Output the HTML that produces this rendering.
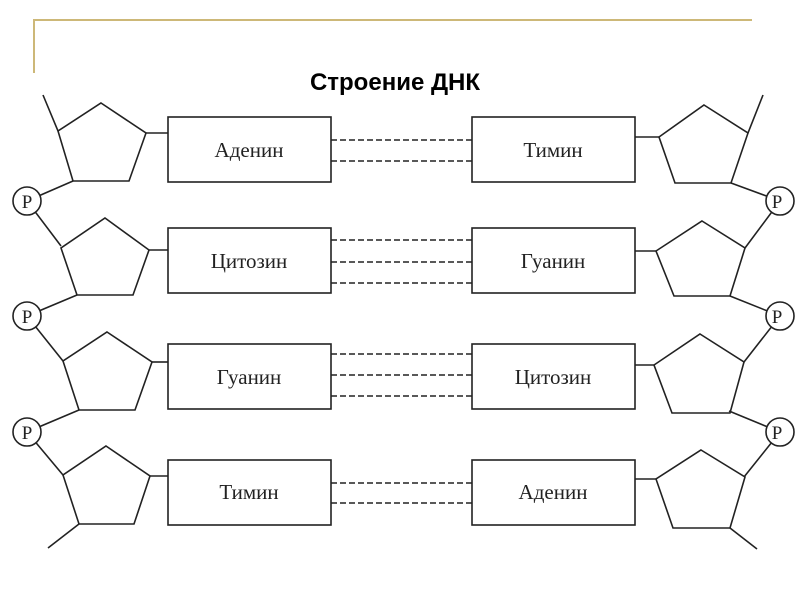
<!DOCTYPE html>
<html><head><meta charset="utf-8"><style>
html,body{margin:0;padding:0;background:#fff;width:800px;height:600px;overflow:hidden}
svg{display:block}
</style></head><body>
<svg width="800" height="600" viewBox="0 0 800 600" xmlns="http://www.w3.org/2000/svg">
<line x1="33" y1="20" x2="752" y2="20" stroke="#cdb878" stroke-width="2"/>
<line x1="34" y1="20" x2="34" y2="73" stroke="#cdb878" stroke-width="2"/>
<text x="395" y="90" text-anchor="middle" font-family="Liberation Sans, sans-serif" font-weight="bold" font-size="24" fill="#000">Строение ДНК</text>
<g stroke="#222" stroke-width="1.6" fill="none">
<polyline points="43,95 58,131"/>
<polyline points="73,181 27,201 61,246"/>
<polyline points="77,295 27,316 63,361"/>
<polyline points="79,410 27,432 63,475"/>
<polyline points="79,524 48,548"/>
<polyline points="763,95 748,133"/>
<polyline points="731,183 780,201 745,248"/>
<polyline points="730,296 780,316 744,362"/>
<polyline points="729,411 780,432 744,477"/>
<polyline points="730,528 757,549"/>
<polygon points="101,103 146,133 129,181 73,181 58,131"/>
<polygon points="105,218 149,250 133,295 77,295 61,248"/>
<polygon points="107,332 152,362 135,410 79,410 63,361"/>
<polygon points="106,446 150,476 134,524 79,524 63,475"/>
<polygon points="704,105 748,133 731,183 675,183 659,137"/>
<polygon points="702,221 745,248 730,296 674,296 656,251"/>
<polygon points="700,334 744,362 730,413 672,413 654,365"/>
<polygon points="701,450 745,477 730,528 673,528 656,479"/>
<line x1="146" y1="133" x2="168" y2="133"/>
<line x1="149" y1="250" x2="168" y2="250"/>
<line x1="152" y1="362" x2="168" y2="362"/>
<line x1="150" y1="476" x2="168" y2="476"/>
<line x1="635" y1="137" x2="659" y2="137"/>
<line x1="635" y1="251" x2="656" y2="251"/>
<line x1="635" y1="365" x2="654" y2="365"/>
<line x1="635" y1="479" x2="656" y2="479"/>
</g>
<g stroke="#222" stroke-width="1.6" fill="#fff">
<circle cx="27" cy="201" r="14"/>
<circle cx="27" cy="316" r="14"/>
<circle cx="27" cy="432" r="14"/>
<circle cx="780" cy="201" r="14"/>
<circle cx="780" cy="316" r="14"/>
<circle cx="780" cy="432" r="14"/>
<rect x="168" y="117" width="163" height="65"/>
<rect x="168" y="228" width="163" height="65"/>
<rect x="168" y="344" width="163" height="65"/>
<rect x="168" y="460" width="163" height="65"/>
<rect x="472" y="117" width="163" height="65"/>
<rect x="472" y="228" width="163" height="65"/>
<rect x="472" y="344" width="163" height="65"/>
<rect x="472" y="460" width="163" height="65"/>
</g>
<g stroke="#222" stroke-width="1.6" stroke-dasharray="6,3">
<line x1="331" y1="140" x2="472" y2="140"/>
<line x1="331" y1="161" x2="472" y2="161"/>
<line x1="331" y1="240" x2="472" y2="240"/>
<line x1="331" y1="262" x2="472" y2="262"/>
<line x1="331" y1="283" x2="472" y2="283"/>
<line x1="331" y1="354" x2="472" y2="354"/>
<line x1="331" y1="375" x2="472" y2="375"/>
<line x1="331" y1="396" x2="472" y2="396"/>
<line x1="331" y1="483" x2="472" y2="483"/>
<line x1="331" y1="503" x2="472" y2="503"/>
</g>
<g font-family="Liberation Serif, serif" font-size="21" fill="#222" text-anchor="middle">
<text x="249" y="157">Аденин</text>
<text x="249" y="268">Цитозин</text>
<text x="249" y="384">Гуанин</text>
<text x="249" y="499">Тимин</text>
<text x="553" y="157">Тимин</text>
<text x="553" y="268">Гуанин</text>
<text x="553" y="384">Цитозин</text>
<text x="553" y="499">Аденин</text>
<text x="27" y="208" font-size="19">P</text>
<text x="27" y="323" font-size="19">P</text>
<text x="27" y="439" font-size="19">P</text>
<text x="777" y="208" font-size="19">P</text>
<text x="777" y="323" font-size="19">P</text>
<text x="777" y="439" font-size="19">P</text>
</g>
</svg>
</body></html>
